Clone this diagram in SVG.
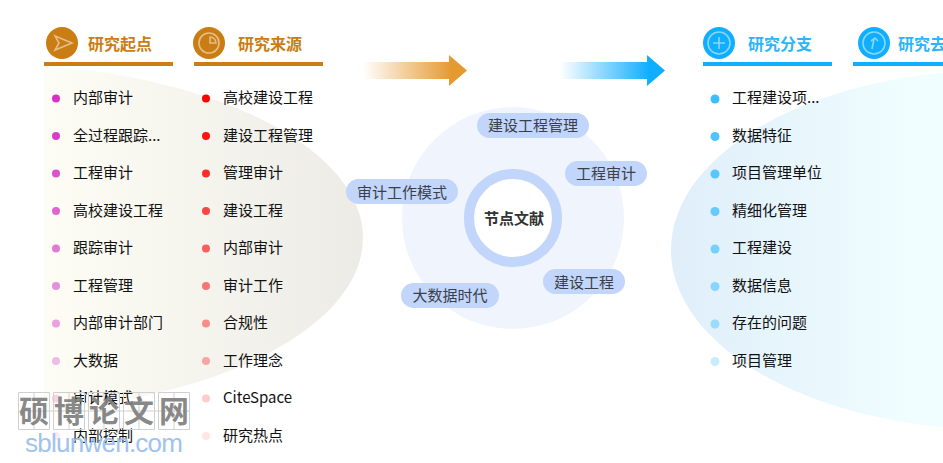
<svg xmlns="http://www.w3.org/2000/svg" width="943" height="463" viewBox="0 0 943 463">
<style>
text{font-family:"Noto Sans CJK SC","Noto Sans",sans-serif}
.t{font-size:15px;fill:#111;dominant-baseline:central}
.h{font-size:16px;font-weight:700;dominant-baseline:central}
.o{fill:#c97d12}.b{fill:#2cb5fb}
.ln{stroke-width:4;fill:none}
.ic{fill:none;stroke:#fff;stroke-opacity:.5;stroke-width:1.6}
.p{fill:#c2d5fb}
.pt{font-size:15px;fill:#3a3f4a;text-anchor:middle;dominant-baseline:central}
</style>
<defs>
<linearGradient id="gl" gradientUnits="userSpaceOnUse" x1="44" x2="363" y1="0" y2="0"><stop offset="0" stop-color="#fdfdf5"/><stop offset="1" stop-color="#ecebe6"/></linearGradient>
<linearGradient id="gr" gradientUnits="userSpaceOnUse" x1="672" x2="920" y1="0" y2="0"><stop offset="0" stop-color="#dfeef9"/><stop offset="1" stop-color="#f0feff"/></linearGradient>
<linearGradient id="a1" x1="0" x2="1" y1="0" y2="0"><stop offset="0" stop-color="#e59a30" stop-opacity="0"/><stop offset=".85" stop-color="#e59a30"/></linearGradient>
<linearGradient id="a2" x1="0" x2="1" y1="0" y2="0"><stop offset="0" stop-color="#10aeff" stop-opacity="0"/><stop offset=".85" stop-color="#10aeff"/></linearGradient>
<clipPath id="cl"><rect x="44" y="0" width="330" height="463"/></clipPath>
</defs>
<rect width="943" height="463" fill="#fff"/>
<ellipse cx="-20" cy="238" rx="383" ry="175" fill="url(#gl)" clip-path="url(#cl)"/>
<ellipse cx="1000" cy="250" rx="329" ry="180" fill="url(#gr)"/>
<g id="connectors">
<path d="M363 62H449V55L467 70.500L449 86V79H363Z" fill="url(#a1)" stroke="url(#a1)" stroke-width="0"/>
<path d="M560 62H647V55L665 70.500L647 86V79H560Z" fill="url(#a2)"/>
</g>
<g id="head-start">
<circle cx="62" cy="43" r="16" fill="#c97d12"/>
<path class="ic" d="M55 36L72 43L55 50L59 43Z"/>
<text class="h o" x="88" y="43">研究起点</text>
<path class="ln" stroke="#c97d12" d="M44 64H173"/>
</g>
<g id="head-source">
<circle cx="209" cy="43" r="16" fill="#c97d12"/>
<circle class="ic" cx="209" cy="43" r="10"/><path class="ic" d="M210 37V43H216A6 6 0 0 0 210 37Z"/>
<text class="h o" x="238" y="43">研究来源</text>
<path class="ln" stroke="#c97d12" d="M194 64H323"/>
</g>
<g id="head-branch">
<circle cx="719" cy="43" r="16" fill="#10aeff"/>
<circle class="ic" cx="719" cy="43" r="11"/><path class="ic" d="M719 37V49M713 43H725"/>
<text class="h b" x="748" y="43">研究分支</text>
<path class="ln" stroke="#10aeff" d="M703 64H832"/>
</g>
<g id="head-trend">
<circle cx="874" cy="43" r="16" fill="#10aeff"/>
<circle class="ic" cx="874" cy="43" r="11"/><path class="ic" d="M872 49L874 39M871 41L875 38L878 41"/>
<text class="h b" x="898" y="43">研究去向</text>
<path class="ln" stroke="#10aeff" d="M853 64H943"/>
</g>
<g id="list-start" fill="#d633c6">
<g><circle cx="56" cy="98.500" r="4"/><text class="t" x="73" y="96.500">内部审计</text></g>
<g><circle cx="56" cy="136" r="4" fill-opacity=".95"/><text class="t" x="73" y="134">全过程跟踪...</text></g>
<g><circle cx="56" cy="173.500" r="4" fill-opacity=".85"/><text class="t" x="73" y="171.500">工程审计</text></g>
<g><circle cx="56" cy="211" r="4" fill-opacity=".75"/><text class="t" x="73" y="209">高校建设工程</text></g>
<g><circle cx="56" cy="248.500" r="4" fill-opacity=".65"/><text class="t" x="73" y="246.500">跟踪审计</text></g>
<g><circle cx="56" cy="286" r="4" fill-opacity=".55"/><text class="t" x="73" y="284">工程管理</text></g>
<g><circle cx="56" cy="323.500" r="4" fill-opacity=".45"/><text class="t" x="73" y="321.500">内部审计部门</text></g>
<g><circle cx="56" cy="361" r="4" fill-opacity=".32"/><text class="t" x="73" y="359">大数据</text></g>
<g><circle cx="56" cy="398.500" r="4" fill-opacity=".2"/><text class="t" x="73" y="396.500">审计模式</text></g>
<g><circle cx="56" cy="436" r="4" fill-opacity=".1"/><text class="t" x="73" y="434">内部控制</text></g>
</g>
<g id="list-source" fill="#ff0000">
<g><circle cx="206" cy="98.500" r="4"/><text class="t" x="223" y="96.500">高校建设工程</text></g>
<g><circle cx="206" cy="136" r="4" fill-opacity=".92"/><text class="t" x="223" y="134">建设工程管理</text></g>
<g><circle cx="206" cy="173.500" r="4" fill-opacity=".82"/><text class="t" x="223" y="171.500">管理审计</text></g>
<g><circle cx="206" cy="211" r="4" fill-opacity=".72"/><text class="t" x="223" y="209">建设工程</text></g>
<g><circle cx="206" cy="248.500" r="4" fill-opacity=".62"/><text class="t" x="223" y="246.500">内部审计</text></g>
<g><circle cx="206" cy="286" r="4" fill-opacity=".52"/><text class="t" x="223" y="284">审计工作</text></g>
<g><circle cx="206" cy="323.500" r="4" fill-opacity=".42"/><text class="t" x="223" y="321.500">合规性</text></g>
<g><circle cx="206" cy="361" r="4" fill-opacity=".32"/><text class="t" x="223" y="359">工作理念</text></g>
<g><circle cx="206" cy="398.500" r="4" fill-opacity=".2"/><text class="t" x="223" y="396.500">CiteSpace</text></g>
<g><circle cx="206" cy="436" r="4" fill-opacity=".1"/><text class="t" x="223" y="434">研究热点</text></g>
</g>
<g id="list-branch" fill="#1fb5ff">
<g><circle cx="715" cy="99" r="4.500" fill-opacity=".88"/><text class="t" x="732" y="96.500">工程建设项...</text></g>
<g><circle cx="715" cy="136.500" r="4.500" fill-opacity=".8"/><text class="t" x="732" y="134">数据特征</text></g>
<g><circle cx="715" cy="174" r="4.500" fill-opacity=".72"/><text class="t" x="732" y="171.500">项目管理单位</text></g>
<g><circle cx="715" cy="211.500" r="4.500" fill-opacity=".64"/><text class="t" x="732" y="209">精细化管理</text></g>
<g><circle cx="715" cy="249" r="4.500" fill-opacity=".56"/><text class="t" x="732" y="246.500">工程建设</text></g>
<g><circle cx="715" cy="286.500" r="4.500" fill-opacity=".46"/><text class="t" x="732" y="284">数据信息</text></g>
<g><circle cx="715" cy="324" r="4.500" fill-opacity=".36"/><text class="t" x="732" y="321.500">存在的问题</text></g>
<g><circle cx="715" cy="361.500" r="4.500" fill-opacity=".24"/><text class="t" x="732" y="359">项目管理</text></g>
</g>
<g id="hub-disc"><circle cx="513" cy="218" r="111" fill="#eff4fd"/></g>
<g id="hub">
<circle cx="513" cy="218" r="44" fill="#fff" stroke="#c2d5fb" stroke-width="10"/>
<text x="514" y="217.500" font-size="15" font-weight="700" fill="#333" text-anchor="middle" dominant-baseline="central">节点文献</text>
</g>
<g id="pill-1"><rect class="p" x="477" y="113" width="112" height="25" rx="12.500"/><text class="pt" x="533" y="124">建设工程管理</text></g>
<g id="pill-2"><rect class="p" x="565" y="161" width="82" height="25" rx="12.500"/><text class="pt" x="606" y="172">工程审计</text></g>
<g id="pill-3"><rect class="p" x="346" y="179" width="112" height="25" rx="12.500"/><text class="pt" x="402" y="191">审计工作模式</text></g>
<g id="pill-4"><rect class="p" x="543" y="269" width="82" height="25" rx="12.500"/><text class="pt" x="584" y="281">建设工程</text></g>
<g id="pill-5"><rect class="p" x="401" y="283" width="98" height="25" rx="12.500"/><text class="pt" x="450" y="294">大数据时代</text></g>
<g id="watermark">
<g fill="none" stroke="#d0d0d0" stroke-width="1">
<path d="M18.500 392.500h31v37h-31zM53.500 392.500h31v37h-31zM88.500 392.500h31v37h-31zM123.500 392.500h31v37h-31zM158.500 392.500h31v37h-31z"/>
<path d="M34 392v38M69 392v38M104 392v38M139 392v38M174 392v38M18 411h172"/>
</g>
<g font-size="30" font-weight="700" fill="#7d7d7d" fill-opacity=".92" text-anchor="middle" dominant-baseline="central">
<text x="34" y="409">硕</text><text x="69" y="409">博</text><text x="104" y="409">论</text><text x="139" y="409">文</text><text x="174" y="409">网</text>
</g>
<text x="25" y="452" font-size="26" fill="#9ec3ee" style="font-family:'Liberation Sans',sans-serif" textLength="158">sblunwen.com</text>
</g>
</svg>
